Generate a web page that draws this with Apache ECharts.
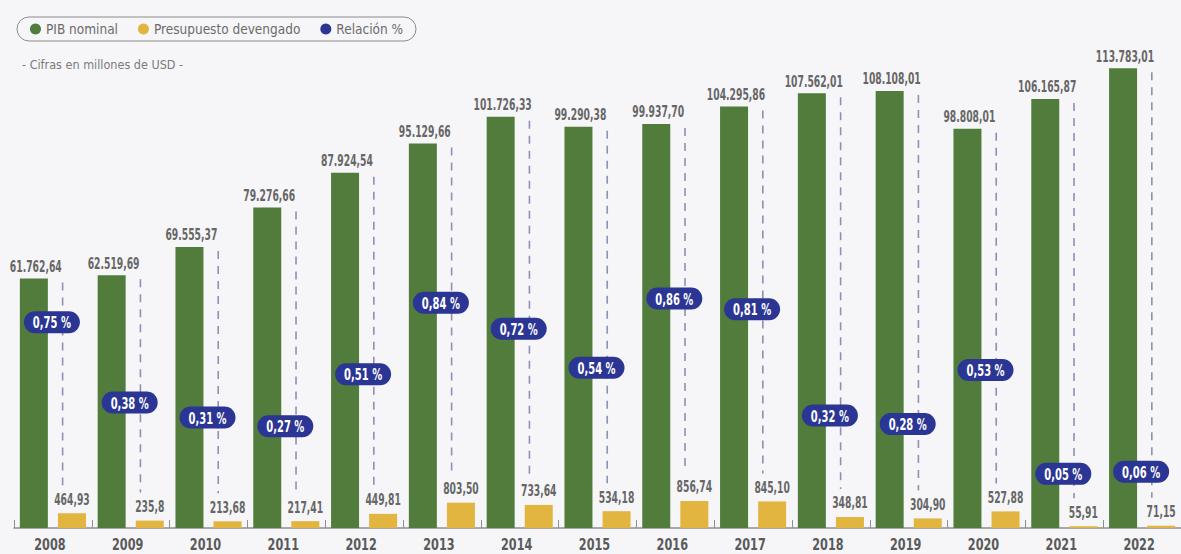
<!DOCTYPE html>
<html>
<head>
<meta charset="utf-8">
<script src="https://cdn.jsdelivr.net/npm/echarts@6/dist/echarts.min.js"></script>
<style>
  html, body { margin: 0; padding: 0; background: #f6f6f9; }
  #chart { width: 1181px; height: 554px; }
  #chart text { font-stretch: condensed !important; }
</style>
</head>
<body>
<div id="chart"></div>
<script>
const years = ['2008','2009','2010','2011','2012','2013','2014','2015','2016','2017','2018','2019','2020','2021','2022'];
const pibNominal = [61762.64, 62519.69, 69555.37, 79276.66, 87924.54, 95129.66, 101726.33, 99290.38, 99937.70, 104295.86, 107562.01, 108108.01, 98808.01, 106165.87, 113783.01];
const presupuestoDevengado = [464.93, 235.8, 213.68, 217.41, 449.81, 803.50, 733.64, 534.18, 856.74, 845.10, 348.81, 304.90, 527.88, 55.91, 71.15];
const presupuestoLabels = ['464,93','235,8','213,68','217,41','449,81','803,50','733,64','534,18','856,74','845,10','348,81','304,90','527,88','55,91','71,15'];
const relacionPct = [0.75, 0.38, 0.31, 0.27, 0.51, 0.84, 0.72, 0.54, 0.86, 0.81, 0.32, 0.28, 0.53, 0.05, 0.06];

const FONT = "'DejaVu Sans Condensed', 'DejaVu Sans', sans-serif";
const PIB_MAX = 120000;
const PRES_MAX = 15400;
const GREEN = '#517c3c';
const YELLOW = '#e2b540';
const BLUE = '#2b3593';
const LABEL_GREY = '#666666';

function fmtEs(v) {
  const parts = v.toFixed(2).split('.');
  const intPart = parts[0].replace(/\B(?=(\d{3})+(?!\d))/g, '.');
  return intPart + ',' + parts[1];
}
function fmtPct(v) {
  return v.toFixed(2).replace('.', ',') + ' %';
}

// narrow text element (condensed look) used by the custom label series
function narrowText(x, y, text, size, fill, align, vAlign, sx) {
  return {
    type: 'text', x: x, y: y, scaleX: sx,
    style: {
      text: text, fill: fill,
      fontFamily: FONT, fontSize: size, fontWeight: 'bold',
      align: align, verticalAlign: vAlign
    }
  };
}

const chart = echarts.init(document.getElementById('chart'), null, { renderer: 'svg' });
chart.setOption({
  backgroundColor: '#f6f6f9',
  animation: false,
  textStyle: { fontFamily: FONT },
  title: {
    text: '- Cifras en millones de USD -',
    left: 17, top: 53,
    textStyle: { fontFamily: FONT, fontSize: 12.5, fontWeight: 'normal', color: '#7a7a7a' }
  },
  legend: {
    left: 17, top: 17,
    data: ['PIB nominal', 'Presupuesto devengado', 'Relación %'],
    icon: 'circle',
    itemWidth: 11, itemHeight: 11,
    itemGap: 20,
    padding: [5, 13, 5, 13],
    borderColor: '#8c8c8c', borderWidth: 1, borderRadius: 13,
    textStyle: { fontFamily: FONT, fontSize: 13.5, color: '#6b6b6b' }
  },
  grid: { left: 14, right: 0, top: 43, bottom: 26 },
  xAxis: {
    type: 'category',
    data: years,
    axisLine: { lineStyle: { color: '#8f8f8f', width: 1.5 } },
    axisTick: { show: true, inside: true, length: 8, lineStyle: { color: '#8f8f8f' } },
    axisLabel: { show: false }
  },
  yAxis: [
    { type: 'value', min: 0, max: PIB_MAX, show: false, splitLine: { show: false } },
    { type: 'value', min: 0, max: PRES_MAX, show: false, splitLine: { show: false } },
    { type: 'value', min: -0.2, max: 2.04, show: false, splitLine: { show: false } }
  ],
  series: [
    {
      name: 'PIB nominal',
      type: 'bar',
      yAxisIndex: 0,
      data: pibNominal,
      barWidth: 28,
      barGap: '36%',
      itemStyle: { color: GREEN }
    },
    {
      name: 'Presupuesto devengado',
      type: 'bar',
      yAxisIndex: 1,
      data: presupuestoDevengado,
      barWidth: 28,
      itemStyle: { color: YELLOW }
    },
    {
      name: 'conector',
      type: 'custom',
      yAxisIndex: 0,
      z: 3,
      silent: true,
      data: years.map((y, i) => [i, pibNominal[i], presupuestoDevengado[i]]),
      encode: { x: 0, y: 1 },
      renderItem: function (params, api) {
        const idx = api.value(0);
        const top = api.coord([idx, api.value(1)]);
        const bot = api.coord([idx, api.value(2) * PIB_MAX / PRES_MAX]);
        const band = api.size([1, 0])[0];
        const x = top[0] + band * 0.125;
        return {
          type: 'line',
          shape: { x1: x, y1: top[1] + 4, x2: x, y2: bot[1] - 28 },
          style: { stroke: '#8e90b4', lineWidth: 1.6, lineDash: [8, 7] }
        };
      }
    },
    {
      name: 'etiquetas PIB',
      type: 'custom',
      yAxisIndex: 0,
      z: 4,
      silent: true,
      data: years.map((y, i) => [i, pibNominal[i]]),
      encode: { x: 0, y: 1 },
      renderItem: function (params, api) {
        const idx = api.value(0);
        const p = api.coord([idx, api.value(1)]);
        const band = api.size([1, 0])[0];
        return narrowText(p[0] - band * 0.22, p[1] - 4, fmtEs(api.value(1)), 16, LABEL_GREY, 'center', 'bottom', 0.64);
      }
    },
    {
      name: 'etiquetas presupuesto',
      type: 'custom',
      yAxisIndex: 1,
      z: 4,
      silent: true,
      data: years.map((y, i) => [i, presupuestoDevengado[i]]),
      encode: { x: 0, y: 1 },
      renderItem: function (params, api) {
        const idx = api.value(0);
        const p = api.coord([idx, api.value(1)]);
        const band = api.size([1, 0])[0];
        return narrowText(p[0] + band * 0.245, p[1] - 6, presupuestoLabels[idx], 16, LABEL_GREY, 'center', 'bottom', 0.64);
      }
    },
    {
      name: 'años',
      type: 'custom',
      yAxisIndex: 0,
      z: 4,
      silent: true,
      data: years.map((y, i) => [i, 0]),
      encode: { x: 0, y: 1 },
      renderItem: function (params, api) {
        const idx = api.value(0);
        const p = api.coord([idx, 0]);
        return narrowText(p[0] - 3, p[1] + 16, years[idx], 16.5, '#5a5a5a', 'center', 'middle', 0.76);
      }
    },
    {
      name: 'Relación %',
      type: 'custom',
      yAxisIndex: 2,
      z: 6,
      silent: true,
      itemStyle: { color: BLUE },
      data: years.map((y, i) => [i, relacionPct[i]]),
      encode: { x: 0, y: 1 },
      renderItem: function (params, api) {
        const idx = api.value(0);
        const p = api.coord([idx, api.value(1)]);
        return {
          type: 'group', x: p[0] - 1, y: p[1],
          children: [
            { type: 'rect', shape: { x: -28, y: -11, width: 56, height: 22, r: 11 }, style: { fill: BLUE } },
            narrowText(0, 1, fmtPct(api.value(1)), 15, '#ffffff', 'center', 'middle', 0.74)
          ]
        };
      }
    }
  ]
});
</script>
</body>
</html>
